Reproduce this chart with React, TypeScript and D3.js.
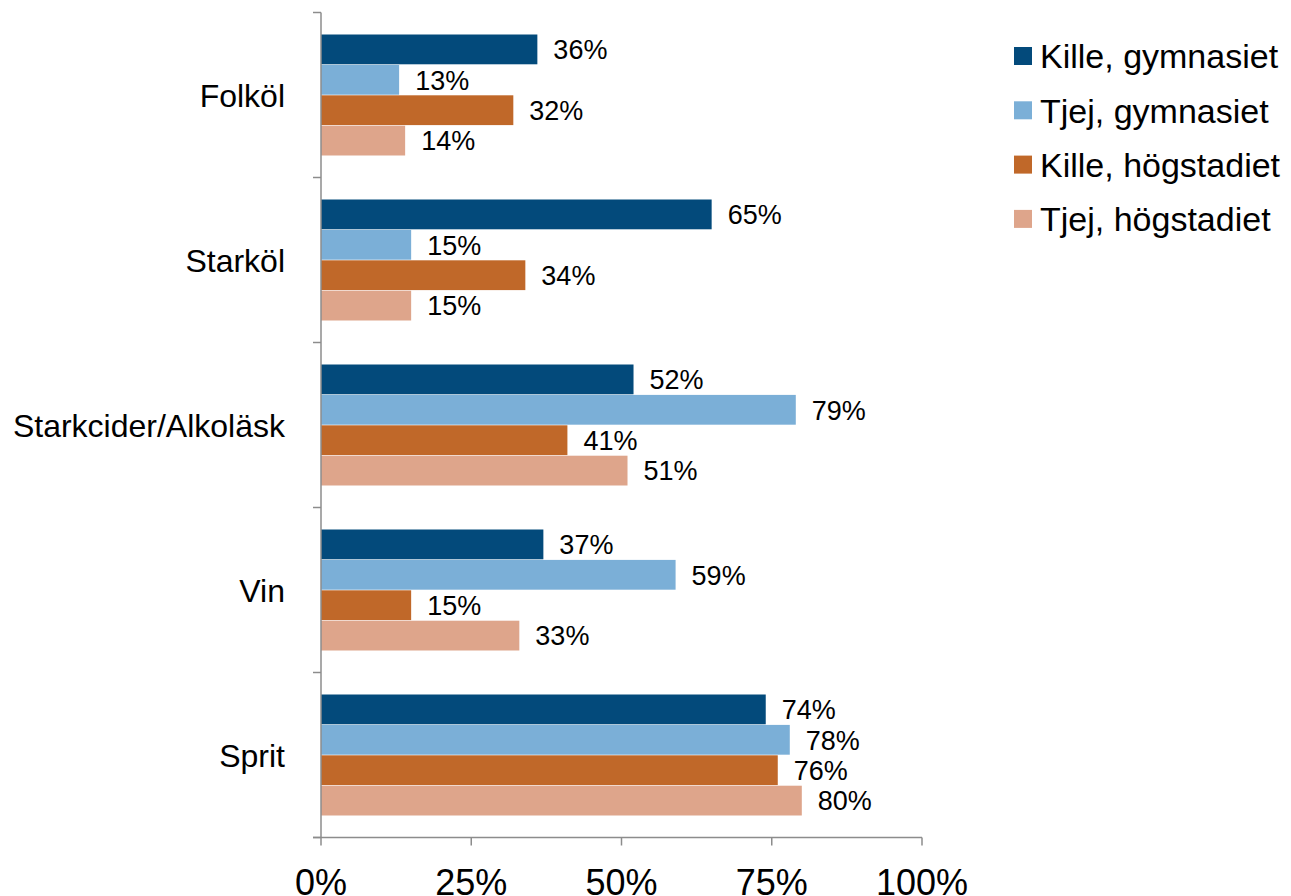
import React from "react";
import * as d3 from "d3";

const categories = ["Folköl", "Starköl", "Starkcider/Alkoläsk", "Vin", "Sprit"];
const seriesNames = ["Kille, gymnasiet", "Tjej, gymnasiet", "Kille, högstadiet", "Tjej, högstadiet"];
const seriesColors = ["#034a7b", "#7bafd7", "#c06829", "#dea58b"];

// values in %, one array per series, same order as categories
const killeGymnasiet = [36, 65, 52, 37, 74];
const tjejGymnasiet = [13, 15, 79, 59, 78];
const killeHogstadiet = [32, 34, 41, 15, 76];
const tjejHogstadiet = [14, 15, 51, 33, 80];

const seriesValues = [killeGymnasiet, tjejGymnasiet, killeHogstadiet, tjejHogstadiet];
const xTicks = [0, 25, 50, 75, 100];

const W = 1291;
const H = 896;
const FONT = "'Liberation Sans', Arial, sans-serif";
const AXIS = "#8c8c8c";

export default function App() {
  const left = 321;
  const right = 922;
  const top = 12.5;
  const bottom = 837.5;

  const x = d3.scaleLinear().domain([0, 100]).range([left, right]);
  const y = d3.scaleBand().domain(categories).range([top, bottom]).padding(0);
  const inner = d3
    .scaleBand()
    .domain(seriesNames)
    .range([22, y.bandwidth() - 22])
    .paddingInner(0.02);

  // band boundaries for y axis ticks
  const yTickPos = categories.map((c) => y(c)).concat([bottom]);

  return (
    <svg
      width={W}
      height={H}
      style={{ position: "absolute", left: 0, top: 0, background: "#fff" }}
      fontFamily={FONT}
    >
      {/* bars */}
      {categories.map((cat, ci) => (
        <g key={cat} transform={`translate(0, ${y(cat)})`}>
          {seriesNames.map((s, si) => {
            const v = seriesValues[si][ci];
            const by = inner(s);
            const bh = inner.bandwidth();
            return (
              <g key={s}>
                <rect
                  x={x(0)}
                  y={by}
                  width={x(v) - x(0)}
                  height={bh}
                  fill={seriesColors[si]}
                />
                <text
                  x={x(v) + 16}
                  y={by + bh / 2}
                  dy="0.36em"
                  fontSize={27}
                  fill="#000"
                >
                  {v}%
                </text>
              </g>
            );
          })}
        </g>
      ))}

      {/* y axis */}
      <line x1={left} x2={left} y1={top} y2={bottom} stroke={AXIS} strokeWidth={1.5} />
      {yTickPos.map((p, i) => (
        <line key={i} x1={left - 8} x2={left} y1={p} y2={p} stroke={AXIS} strokeWidth={1.5} />
      ))}
      {categories.map((cat) => (
        <text
          key={cat}
          x={285}
          y={y(cat) + y.bandwidth() / 2}
          dy="0.36em"
          textAnchor="end"
          fontSize={32}
          fill="#000"
        >
          {cat}
        </text>
      ))}

      {/* x axis */}
      <line x1={left - 8} x2={right} y1={bottom} y2={bottom} stroke={AXIS} strokeWidth={1.5} />
      {xTicks.map((t) => (
        <g key={t}>
          <line x1={x(t)} x2={x(t)} y1={bottom} y2={bottom + 8} stroke={AXIS} strokeWidth={1.5} />
          <text x={x(t)} y={895} textAnchor="middle" fontSize={36} fill="#000">
            {t}%
          </text>
        </g>
      ))}

      {/* legend */}
      {seriesNames.map((s, i) => {
        const cy = 56 + i * 54.3;
        return (
          <g key={s}>
            <rect x={1014} y={cy - 9} width={18} height={18} fill={seriesColors[i]} />
            <text x={1040} y={cy} dy="0.36em" fontSize={34} fill="#000">
              {s}
            </text>
          </g>
        );
      })}
    </svg>
  );
}
